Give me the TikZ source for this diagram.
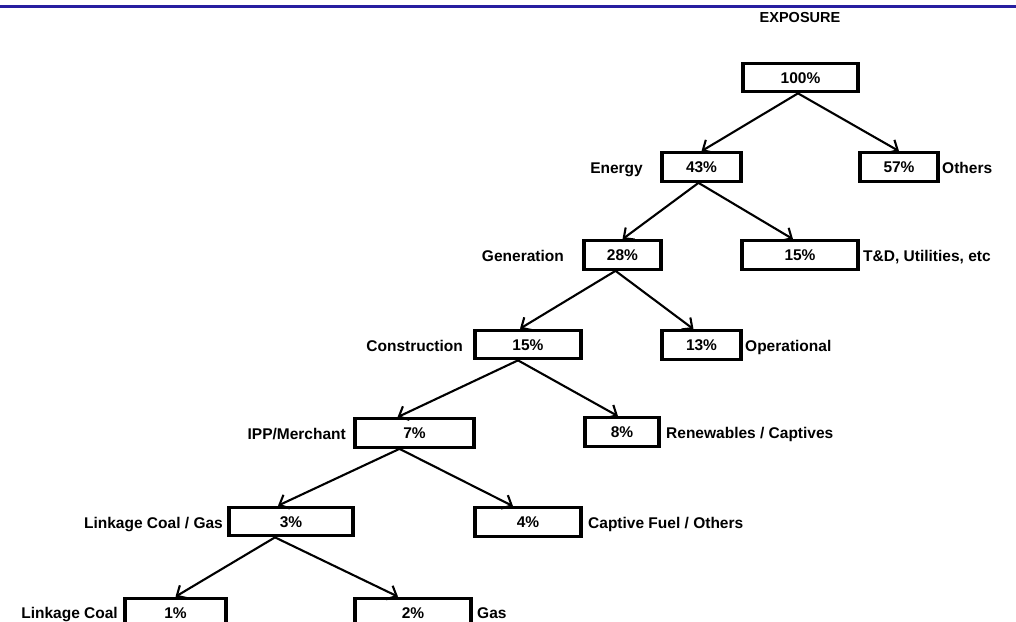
\documentclass[tikz,border=0pt]{standalone}
\usepackage{fontspec}
\setmainfont{Liberation Sans}
\usetikzlibrary{arrows.meta}
\definecolor{titleblue}{RGB}{40,30,160}
\tikzset{
  pbox/.style={draw=black, line width=3.2pt, minimum height=28.5pt, inner sep=0pt,
    font=\fontsize{15.5}{16}\selectfont\bfseries, text height=11pt, text depth=0pt},
  lbl/.style={inner sep=0pt, font=\fontsize{15.5}{16}\selectfont\bfseries},
  arr/.style={draw=black, line width=2.1pt, -{Straight Barb[length=8pt,width=15pt]}}
}
\begin{document}
\begin{tikzpicture}[x=1pt,y=-1pt]
\useasboundingbox (0,0) rectangle (1016,621);
\clip (0,0) rectangle (1016,621);
\fill[white] (0,0) rectangle (1016,621);
\coordinate (tl) at (0,6.5);
\coordinate (tr) at (1016,6.5);
\draw[titleblue, line width=2.4pt] (tl) -- (tr);

\node[lbl, font=\fontsize{14.5}{15}\selectfont\bfseries] (exp) at (800,18) {EXPOSURE};

\node[pbox, minimum width=115pt] (n100) at (800.5,77.5) {100\%};
\node[pbox, minimum width=79pt]  (n43)  at (701.5,167) {43\%};
\node[pbox, minimum width=78pt]  (n57)  at (899,167) {57\%};
\node[pbox, minimum width=77pt]  (n28)  at (622.5,255) {28\%};
\node[pbox, minimum width=116pt] (nTD)  at (800,255) {15\%};
\node[pbox, minimum width=106pt] (n15)  at (528,344.5) {15\%};
\node[pbox, minimum width=79pt]  (n13)  at (701.5,345) {13\%};
\node[pbox, minimum width=119pt] (n7)   at (414.5,433) {7\%};
\node[pbox, minimum width=74pt]  (n8)   at (622,432) {8\%};
\node[pbox, minimum width=124pt] (n3)   at (291,521.5) {3\%};
\node[pbox, minimum width=106pt] (n4)   at (528,522) {4\%};
\node[pbox, minimum width=101pt] (n1)   at (175.5,612.5) {1\%};
\node[pbox, minimum width=116pt] (n2)   at (413,612.5) {2\%};

\node[lbl, anchor=base east] (lEnergy) at (643,173) {Energy};
\node[lbl, anchor=base west] (lOthers) at (942,173) {Others};
\node[lbl, anchor=base east] (lGen) at (564,261) {Generation};
\node[lbl, anchor=base west] (lTD) at (863,261) {T\&D, Utilities, etc};
\node[lbl, anchor=base east] (lCon) at (463,351) {Construction};
\node[lbl, anchor=base west] (lOp) at (745,351) {Operational};
\node[lbl, anchor=base east] (lIPP) at (346,439) {IPP/Merchant};
\node[lbl, anchor=base west] (lRen) at (666,438) {Renewables / Captives};
\node[lbl, anchor=base east] (lLCG) at (223,528) {Linkage Coal / Gas};
\node[lbl, anchor=base west] (lCF) at (588,528) {Captive Fuel / Others};
\node[lbl, anchor=base east] (lLC) at (118,618) {Linkage Coal};
\node[lbl, anchor=base west] (lGas) at (477,618) {Gas};

\draw[arr] ([xshift=-2.5pt]n100.south) -- (n43.north);
\draw[arr] ([xshift=-2.5pt]n100.south) -- (n57.north);
\draw[arr] ([xshift=-3pt]n43.south) -- (n28.north);
\draw[arr] ([xshift=-3pt]n43.south) -- ([xshift=-7pt]nTD.north);
\draw[arr] ([xshift=-7pt]n28.south) -- ([xshift=-8pt]n15.north);
\draw[arr] ([xshift=-7pt]n28.south) -- ([xshift=-8pt]n13.north);
\draw[arr] ([xshift=-10pt]n15.south) -- ([xshift=-17pt]n7.north);
\draw[arr] ([xshift=-10pt]n15.south) -- ([xshift=-4pt]n8.north);
\draw[arr] ([xshift=-15pt]n7.south) -- ([xshift=-13pt]n3.north);
\draw[arr] ([xshift=-15pt]n7.south) -- ([xshift=-15pt]n4.north);
\draw[arr] ([xshift=-16pt]n3.south) -- (n1.north);
\draw[arr] ([xshift=-16pt]n3.south) -- ([xshift=-15pt]n2.north);
\end{tikzpicture}
\end{document}
